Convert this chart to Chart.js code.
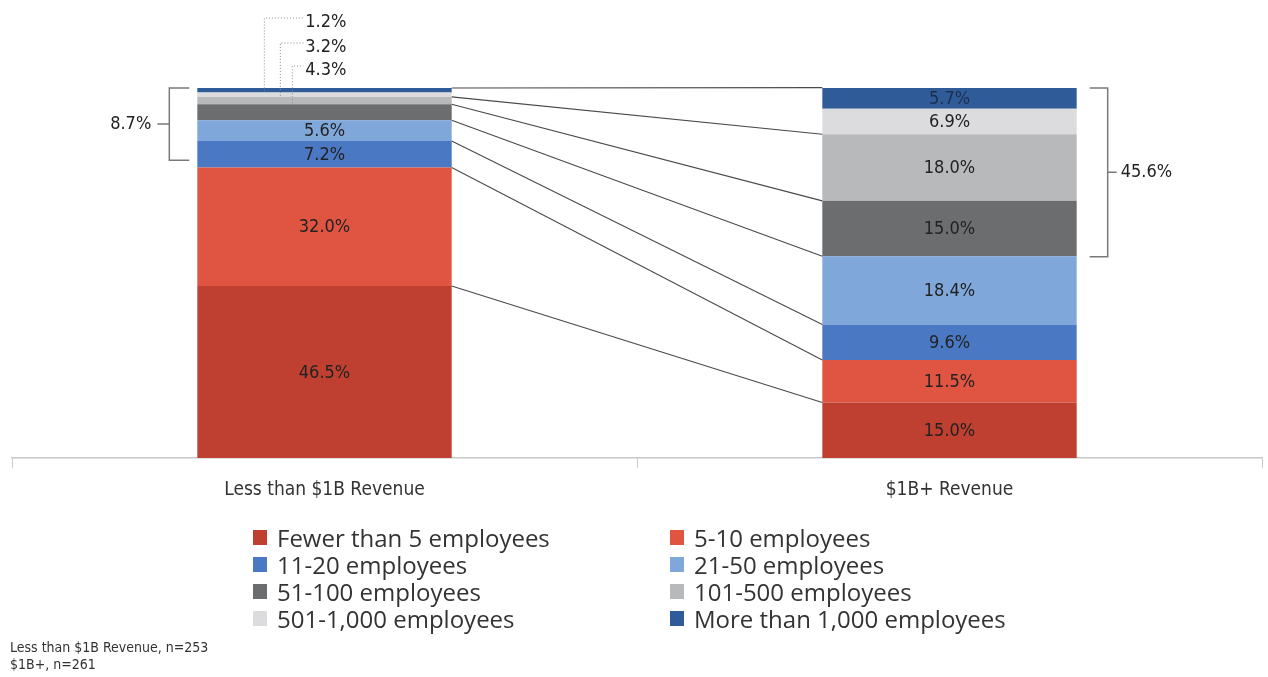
<!DOCTYPE html>
<html lang="en">
<head>
    <meta charset="UTF-8">
    <title>Company Size by Revenue</title>
    <script src="https://cdn.jsdelivr.net/npm/chart.js"></script>
    <style>
        body {
            margin: 0;
            padding: 0;
            background-color: #ffffff;
            font-family: "Open Sans", Arial, sans-serif;
        }
        #chart-container {
            position: relative;
            width: 1268px;
            height: 677px;
        }
        #legend {
            position: absolute;
            left: 253px;
            top: 524px;
            display: grid;
            grid-template-columns: 417px 420px;
            font-size: 24px;
            color: #333333;
        }
        #legend .item {
            display: flex;
            align-items: center;
            height: 27px;
            white-space: nowrap;
        }
        #legend .box {
            width: 14px;
            height: 15px;
            margin-right: 10px;
        }
        #notes {
            position: absolute;
            left: 10px;
            top: 639px;
            font-family: "DejaVu Sans Condensed", "Liberation Sans Narrow", Arial, sans-serif;
            font-size: 14px;
            line-height: 17px;
            color: #333333;
        }
    </style>
</head>
<body>
    <div id="chart-container">
        <canvas id="myChart"></canvas>
        <div id="legend"></div>
        <div id="notes">Less than $1B Revenue, n=253<br>$1B+, n=261</div>
    </div>

    <script>
        const categories = ['Less than $1B Revenue', '$1B+ Revenue'];

        // share of respondents per company size, bottom of the stack first
        const fewerThan5 = [46.5, 15.0];
        const from5to10 = [32.0, 11.5];
        const from11to20 = [7.2, 9.6];
        const from21to50 = [5.6, 18.4];
        const from51to100 = [4.3, 15.0];
        const from101to500 = [2.0, 18.0];
        const from501to1000 = [1.2, 6.9];
        const moreThan1000 = [1.2, 5.7];

        const seriesNames = [
            'Fewer than 5 employees', '5-10 employees', '11-20 employees', '21-50 employees',
            '51-100 employees', '101-500 employees', '501-1,000 employees', 'More than 1,000 employees'
        ];
        const seriesValues = [fewerThan5, from5to10, from11to20, from21to50,
            from51to100, from101to500, from501to1000, moreThan1000];
        const seriesColors = ['#bf3f30', '#e05442', '#4a78c3', '#7fa7da',
            '#6c6d6f', '#b8b9bb', '#dcdcde', '#2f5c99'];

        // bracket totals: 51 employees and up
        const bracketLeft = from51to100[0] + from101to500[0] + from501to1000[0] + moreThan1000[0];
        const bracketRight = from51to100[1] + from101to500[1] + from501to1000[1] + moreThan1000[1];

        const narrow = '"DejaVu Sans Condensed", "Liberation Sans Narrow", Arial, sans-serif';
        const labelFont = '18px ' + narrow;

        const overlayPlugin = {
            id: 'overlay',
            afterDatasetsDraw(chart) {
                const ctx = chart.ctx;
                const y = chart.scales.y;
                const metas = seriesValues.map((_, i) => chart.getDatasetMeta(i));

                // connector lines between matching segment tops
                ctx.save();
                ctx.strokeStyle = '#4a4a4a';
                ctx.lineWidth = 1.1;
                [7, 5, 4, 3, 2, 1, 0].forEach(i => {
                    const a = metas[i].data[0];
                    const b = metas[i].data[1];
                    ctx.beginPath();
                    ctx.moveTo(a.x + a.width / 2, a.y);
                    ctx.lineTo(b.x - b.width / 2, b.y);
                    ctx.stroke();
                });
                ctx.restore();

                // values inside the segments
                ctx.save();
                ctx.font = labelFont;
                ctx.textAlign = 'center';
                ctx.textBaseline = 'middle';
                metas.forEach((meta, i) => {
                    meta.data.forEach((el, j) => {
                        const v = seriesValues[i][j];
                        if (v < 5) return;
                        ctx.fillStyle = i === 7 ? '#1d2d4d' : '#222222';
                        ctx.fillText(v.toFixed(1) + '%', el.x, (el.y + el.base) / 2 + 1);
                    });
                });
                ctx.restore();

                // dotted leaders for the thin segments on the left bar
                const leftBar = metas[0].data[0];
                const left = leftBar.x - leftBar.width / 2;
                const leaders = [
                    { text: moreThan1000[0], dx: 67, ty: 18, el: metas[7].data[0] },
                    { text: from101to500[0] + from501to1000[0], dx: 83, ty: 43, el: metas[6].data[0] },
                    { text: from51to100[0], dx: 95, ty: 66, el: metas[5].data[0] }
                ];
                ctx.save();
                ctx.strokeStyle = '#8a8a8a';
                ctx.lineWidth = 1;
                ctx.setLineDash([1, 2]);
                leaders.forEach(l => {
                    const x = left + l.dx;
                    ctx.beginPath();
                    ctx.moveTo(x, l.el.base - 1);
                    ctx.lineTo(x, l.ty);
                    ctx.lineTo(left + 106, l.ty);
                    ctx.stroke();
                });
                ctx.setLineDash([]);
                ctx.font = labelFont;
                ctx.fillStyle = '#222222';
                ctx.textAlign = 'left';
                ctx.textBaseline = 'middle';
                leaders.forEach(l => {
                    ctx.fillText(l.text.toFixed(1) + '%', left + 108, l.ty + 4);
                });
                ctx.restore();

                // brackets
                ctx.save();
                ctx.strokeStyle = '#7a7a7a';
                ctx.lineWidth = 1.5;
                ctx.font = labelFont;
                ctx.fillStyle = '#222222';
                ctx.textBaseline = 'middle';

                const lTop = y.getPixelForValue(100);
                const lBottom = y.getPixelForValue(80.5);
                const lx = left - 28;
                ctx.beginPath();
                ctx.moveTo(left - 8, lTop);
                ctx.lineTo(lx, lTop);
                ctx.lineTo(lx, lBottom);
                ctx.lineTo(left - 8, lBottom);
                ctx.moveTo(lx, (lTop + lBottom) / 2);
                ctx.lineTo(lx - 12, (lTop + lBottom) / 2);
                ctx.stroke();
                ctx.textAlign = 'right';
                ctx.fillText(bracketLeft.toFixed(1) + '%', lx - 18, (lTop + lBottom) / 2);

                const rightBar = metas[0].data[1];
                const right = rightBar.x + rightBar.width / 2;
                const rTop = y.getPixelForValue(100);
                const rBottom = y.getPixelForValue(100 - bracketRight);
                const rx = right + 31;
                ctx.beginPath();
                ctx.moveTo(right + 13, rTop);
                ctx.lineTo(rx, rTop);
                ctx.lineTo(rx, rBottom);
                ctx.lineTo(right + 13, rBottom);
                ctx.moveTo(rx, (rTop + rBottom) / 2);
                ctx.lineTo(rx + 9, (rTop + rBottom) / 2);
                ctx.stroke();
                ctx.textAlign = 'left';
                ctx.fillText(bracketRight.toFixed(1) + '%', rx + 13, (rTop + rBottom) / 2);
                ctx.restore();
            }
        };

        const ctx = document.getElementById('myChart').getContext('2d');
        const myChart = new Chart(ctx, {
            type: 'bar',
            data: {
                labels: categories,
                datasets: seriesValues.map((values, i) => ({
                    label: seriesNames[i],
                    data: values,
                    backgroundColor: seriesColors[i],
                    borderWidth: 0,
                    categoryPercentage: 1,
                    barPercentage: 0.407,
                })),
            },
            options: {
                responsive: true,
                maintainAspectRatio: false,
                animation: false,
                layout: {
                    padding: { top: 88, left: 12, right: 6, bottom: 0 },
                },
                plugins: {
                    legend: { display: false },
                    tooltip: { enabled: false },
                },
                scales: {
                    x: {
                        stacked: true,
                        grid: {
                            drawOnChartArea: false,
                            color: '#c8c8c8',
                            tickLength: 10,
                        },
                        border: { color: '#c8c8c8', width: 1.5 },
                        ticks: {
                            padding: 11,
                            color: '#333333',
                            font: { family: narrow, size: 19 },
                        },
                        afterFit(scale) {
                            scale.height = 219;
                        },
                    },
                    y: {
                        stacked: true,
                        display: false,
                        min: 0,
                        max: 100,
                    },
                },
            },
            plugins: [overlayPlugin],
        });

        // two-column legend, filled row by row in series order
        const legend = document.getElementById('legend');
        seriesNames.forEach((name, i) => {
            const item = document.createElement('div');
            item.className = 'item';
            item.innerHTML = '<span class="box" style="background:' + seriesColors[i] + '"></span>' + name;
            legend.appendChild(item);
        });
    </script>
</body>
</html>
